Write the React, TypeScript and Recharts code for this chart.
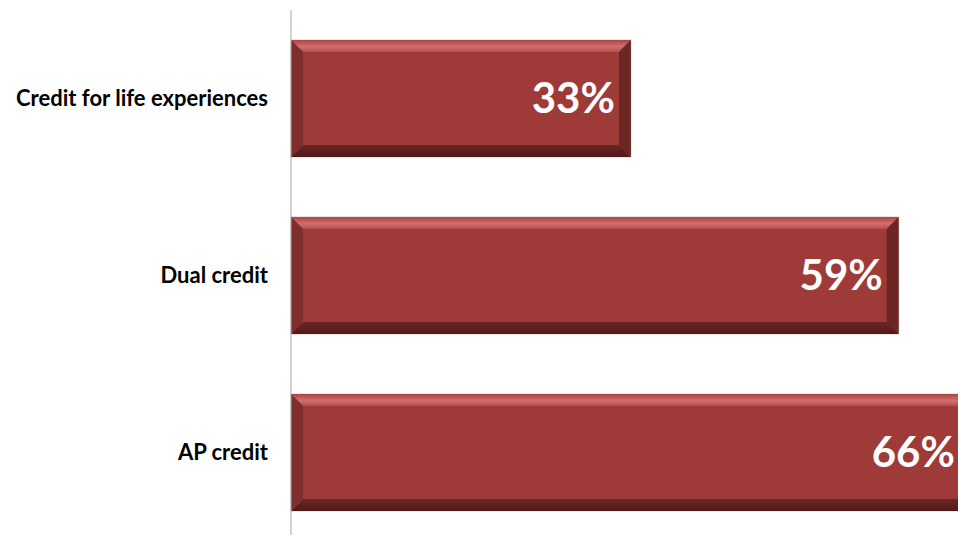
import { Bar, BarChart, LabelList, XAxis, YAxis } from "recharts"

const categories = ["Credit for life experiences", "Dual credit", "AP credit"]
const shares = [33, 59, 66]

const data = categories.map((name, i) => ({ name, value: shares[i] }))

const BEVEL = 12

// bar with a bevelled frame, like the office "3d" bar preset
function BevelBar(props: any) {
  const { x, y, width, height } = props
  if (width <= 0 || height <= 0) return null
  const b = Math.min(BEVEL, width / 2, height / 2)
  const r = x + width
  const btm = y + height
  return (
    <g>
      <rect x={x} y={y} width={width} height={height} fill="#9e3b39" stroke="#d8cccc" strokeWidth={1} />
      <polygon
        points={`${x},${y} ${r},${y} ${r - b},${y + b} ${x + b},${y + b}`}
        fill="url(#bevelTop)"
      />
      <polygon
        points={`${x},${btm} ${r},${btm} ${r - b},${btm - b} ${x + b},${btm - b}`}
        fill="url(#bevelBottom)"
      />
      <polygon points={`${x},${y} ${x + b},${y + b} ${x + b},${btm - b} ${x},${btm}`} fill="#7e2e2c" />
      <polygon points={`${r},${y} ${r - b},${y + b} ${r - b},${btm - b} ${r},${btm}`} fill="#6c2624" />
    </g>
  )
}

export default function App() {
  return (
    <div style={{ position: "fixed", left: 0, top: 0, width: 958, height: 535, overflow: "hidden", background: "#fff" }}>
      <BarChart
        width={1321}
        height={541}
        data={data}
        layout="vertical"
        margin={{ top: 10, right: 0, bottom: 0, left: 0 }}
        barCategoryGap={30}
      >
        <defs>
          <linearGradient id="bevelTop" x1="0" y1="0" x2="0" y2="1">
            <stop offset="0%" stopColor="#a94644" />
            <stop offset="55%" stopColor="#d26e6c" />
            <stop offset="100%" stopColor="#b34f4d" />
          </linearGradient>
          <linearGradient id="bevelBottom" x1="0" y1="0" x2="0" y2="1">
            <stop offset="0%" stopColor="#6e2624" />
            <stop offset="100%" stopColor="#4f1a19" />
          </linearGradient>
        </defs>
        <XAxis type="number" domain={[0, 100]} hide />
        <YAxis
          type="category"
          dataKey="name"
          width={291}
          tickLine={false}
          tickSize={0}
          tickMargin={23}
          axisLine={{ stroke: "#a6a6a6", strokeWidth: 1 }}
          tick={{ fill: "#000", fontSize: 22, fontWeight: 700, fontFamily: "Lato" }}
        />
        <Bar dataKey="value" shape={BevelBar} isAnimationActive={false}>
          <LabelList
            dataKey="value"
            position="insideRight"
            offset={16}
            formatter={(v: any) => `${v}%`}
            fill="#fff"
            fontSize={42}
            fontWeight={700}
            fontFamily="Lato"
          />
        </Bar>
      </BarChart>
    </div>
  )
}
